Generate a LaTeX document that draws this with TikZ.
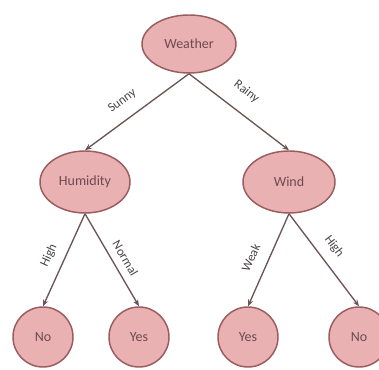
\documentclass[tikz,border=0pt]{standalone}
\usepackage{fontspec}
\setmainfont{Carlito}
\usetikzlibrary{shapes.geometric,arrows.meta}
\definecolor{nodefill}{HTML}{E9B1B1}
\definecolor{nodeline}{HTML}{9A5C5E}
\definecolor{nodetext}{HTML}{6E4A50}
\definecolor{edgeline}{HTML}{6A5456}
\definecolor{labeltext}{HTML}{4A4446}
\begin{document}
\begin{tikzpicture}[x=0.75pt,y=-0.75pt,
  decision/.style={ellipse,draw=nodeline,fill=nodefill,line width=1.1pt,
    text=nodetext,font=\fontsize{10.5}{12}\selectfont,inner sep=0pt},
  leaf/.style={circle,draw=nodeline,fill=nodefill,line width=1.1pt,
    text=nodetext,font=\fontsize{10.5}{12}\selectfont,minimum size=45pt,inner sep=0pt},
  edge/.style={draw=edgeline,line width=1pt,-{Stealth[length=5pt,width=4pt]}},
  lbl/.style={sloped,inner sep=0pt,text=labeltext,font=\fontsize{9.5}{11}\selectfont}]
  \useasboundingbox (0,0) rectangle (379,370);
  % inner decision nodes
  \node[decision,minimum width=70.5pt,minimum height=43.5pt] (weather) at (189,44) {Weather};
  \node[decision,minimum width=67.5pt,minimum height=46.5pt] (humidity) at (85,182) {Humidity};
  \node[decision,minimum width=69pt,minimum height=46.5pt] (wind) at (289,182) {Wind};
  % leaves
  \node[leaf] (no1) at (43,337) {No};
  \node[leaf] (yes1) at (139,337) {Yes};
  \node[leaf] (yes2) at (248,337) {Yes};
  \node[leaf] (no2) at (359,337) {No};
  % branches
  \draw[edge] (weather.south) -- node[lbl,pos=0.54,above=9pt] {Sunny} (humidity.north);
  \draw[edge] (weather.south) -- node[lbl,pos=0.45,above=11pt] {Rainy} (wind.north);
  \draw[edge] (humidity.south) -- node[lbl,pos=0.52,above=7pt] {High} (no1.north);
  \draw[edge] (humidity.south) -- node[lbl,pos=0.55,above=5.5pt] {Normal} (yes1.north);
  \draw[edge] (wind.south) -- node[lbl,pos=0.55,above=9pt] {Weak} (yes2.north);
  \draw[edge] (wind.south) -- node[lbl,pos=0.46,above=7.5pt] {High} (no2.north);
\end{tikzpicture}
\end{document}
